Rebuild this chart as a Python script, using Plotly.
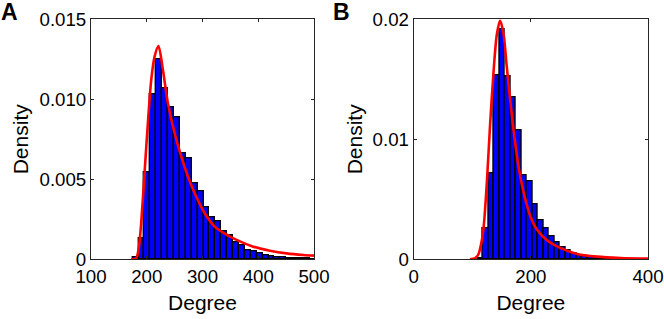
import plotly.graph_objects as go

# ---------------- data ----------------
a_bin_width = 10.6
a_bin_centers = [179.9, 190.5, 201.1, 211.7, 222.3, 232.9, 243.5, 254.1, 264.7, 275.3,
                 285.9, 296.5, 307.1, 317.7, 328.3, 338.9, 349.5, 360.1, 370.7, 381.3,
                 391.9, 402.5, 413.1, 423.7, 434.3, 444.9, 455.5, 466.1, 476.7, 487.3, 497.9]
a_density = [0.0001, 0.00131, 0.00544, 0.01029, 0.01252, 0.01069, 0.00948, 0.00885, 0.00660, 0.00633,
             0.00473, 0.00423, 0.00323, 0.00260, 0.00235, 0.00177, 0.00148, 0.00104, 0.00085, 0.00054,
             0.00048, 0.00035, 0.00025, 0.00019, 0.000125, 0.0001, 0.00008, 0.00006, 0.00005, 0.00004, 0.00003]
a_fit_x = [172, 181, 186, 190, 196, 202, 208, 214, 221, 229, 238, 250, 262, 274, 286,
           304, 322, 340, 361, 391, 421, 451, 481, 500]
a_fit_y = [0.0, 0.00006, 0.0008, 0.00225, 0.00537, 0.0085, 0.0112, 0.01266, 0.01333, 0.01183,
           0.00975, 0.00788, 0.00641, 0.00516, 0.00413, 0.00288, 0.00204, 0.00160, 0.00121,
           0.00079, 0.00054, 0.00037, 0.00027, 0.00023]

b_bin_width = 9.4
b_bin_centers = [113.2, 122.6, 132.0, 141.4, 150.8, 160.2, 169.6, 179.0, 188.4, 197.8,
                 207.2, 216.6, 226.0, 235.4, 244.8, 254.2, 263.6, 273.0, 282.4, 291.8,
                 301.2, 310.6, 320.0, 329.4, 338.8, 348.2, 357.6, 367.0, 376.4, 385.8, 395.2]
b_density = [0.00005, 0.00258, 0.00717, 0.01533, 0.01915, 0.01528, 0.01347, 0.01078, 0.00697, 0.00647,
             0.00456, 0.00328, 0.00256, 0.00189, 0.00139, 0.00097, 0.00072, 0.00050, 0.00036, 0.00028,
             0.00019, 0.00014, 0.00010, 0.00008, 0.00006, 0.00005, 0.00004, 0.00003, 0.00002, 0.00002, 0.00001]
b_fit_x = [96, 105, 110.4, 116, 120, 125, 130.4, 136, 141.8, 147.5, 153.3, 159, 164.7, 170.4,
           179, 188, 199, 210, 227, 250, 279, 313, 353, 400]
b_fit_y = [0.0, 0.0001, 0.0004, 0.0015, 0.0030, 0.0065, 0.0112, 0.0154, 0.0187, 0.0199, 0.0188,
           0.0160, 0.0133, 0.0108, 0.0077, 0.0055, 0.0036, 0.0025, 0.0016, 0.00095, 0.00045,
           0.00022, 0.00011, 0.00006]

a_xticks = [100, 200, 300, 400, 500]
a_yticks = [0, 0.005, 0.010, 0.015]
a_yticklabels = ["0", "0.005", "0.010", "0.015"]
b_xticks = [0, 200, 400]
b_yticks = [0, 0.01, 0.02]
b_yticklabels = ["0", "0.01", "0.02"]

# ---------------- figure ----------------
W, H = 664, 319
FONT = "Liberation Sans, Arial, sans-serif"
AX = "#262626"

fig = go.Figure()

bar_style = dict(color="#0000FF", line=dict(color="black", width=1.4))
fig.add_trace(go.Bar(x=a_bin_centers, y=a_density, width=a_bin_width, marker=bar_style,
                     xaxis="x", yaxis="y", showlegend=False))
fig.add_trace(go.Scatter(x=a_fit_x, y=a_fit_y, mode="lines",
                         line=dict(color="#FF0000", width=2.6, shape="spline", smoothing=0.8),
                         xaxis="x", yaxis="y", showlegend=False))
fig.add_trace(go.Bar(x=b_bin_centers, y=b_density, width=b_bin_width, marker=bar_style,
                     xaxis="x2", yaxis="y2", showlegend=False))
fig.add_trace(go.Scatter(x=b_fit_x, y=b_fit_y, mode="lines",
                         line=dict(color="#FF0000", width=2.6, shape="spline", smoothing=0.8),
                         xaxis="x2", yaxis="y2", showlegend=False))

ydom = [1 - 259.3 / H, 1 - 19.3 / H]
TICKSIZE = 18.7
LABSIZE = 21
common = dict(showline=True, linecolor=AX, linewidth=1, mirror="ticks", ticks="inside",
              ticklen=3, tickcolor=AX, showgrid=False, zeroline=False, automargin=False,
              tickfont=dict(family=FONT, size=TICKSIZE, color="black"))

fig.update_layout(
    width=W, height=H,
    margin=dict(l=0, r=0, t=0, b=0),
    paper_bgcolor="white", plot_bgcolor="white",
    bargap=0, barmode="overlay",
    font=dict(family=FONT, color="black"),
    xaxis=dict(domain=[91 / W, 314 / W], range=[100, 500], tickvals=a_xticks,
               title=dict(text="Degree", font=dict(family=FONT, size=LABSIZE), standoff=9),
               anchor="y", **common),
    yaxis=dict(domain=ydom, range=[0, 0.015], tickvals=a_yticks, ticktext=a_yticklabels,
               title=dict(text="Density", font=dict(family=FONT, size=LABSIZE), standoff=5),
               anchor="x", **common),
    xaxis2=dict(domain=[413.7 / W, 648 / W], range=[0, 400], tickvals=b_xticks,
                title=dict(text="Degree", font=dict(family=FONT, size=LABSIZE), standoff=9),
                anchor="y2", **common),
    yaxis2=dict(domain=ydom, range=[0, 0.02], tickvals=b_yticks, ticktext=b_yticklabels,
                title=dict(text="Density", font=dict(family=FONT, size=LABSIZE), standoff=4),
                anchor="x2", **common),
    annotations=[
        dict(text="<b>A</b>", x=-1 / W, y=1 + 3 / H, xref="paper", yref="paper",
             xanchor="left", yanchor="top", showarrow=False,
             font=dict(family=FONT, size=23, color="black")),
        dict(text="<b>B</b>", x=331 / W, y=1 + 3 / H, xref="paper", yref="paper",
             xanchor="left", yanchor="top", showarrow=False,
             font=dict(family=FONT, size=23, color="black")),
    ],
)

fig.write_html("out.html", config={"displayModeBar": False},
               post_script="document.body.style.margin='0';document.body.style.overflow='hidden';")
